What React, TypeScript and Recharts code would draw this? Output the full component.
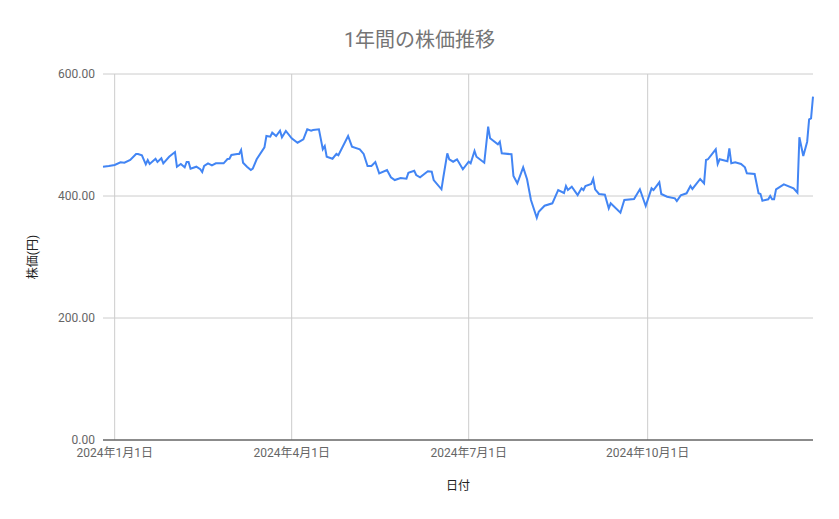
import React from 'react';
import { LineChart, Line, XAxis, YAxis, CartesianGrid, ReferenceLine } from 'recharts';

const TITLE = '1年間の株価推移';
const X_TITLE = '日付';
const Y_TITLE = '株価(円)';

const dates: string[] = [
  '2023-12-26', '2023-12-29', '2024-01-01', '2024-01-04', '2024-01-06', '2024-01-09', '2024-01-12', '2024-01-13',
  '2024-01-15', '2024-01-17', '2024-01-18', '2024-01-19', '2024-01-22', '2024-01-23', '2024-01-25', '2024-01-26',
  '2024-01-29', '2024-02-01', '2024-02-02', '2024-02-04', '2024-02-06', '2024-02-07', '2024-02-08', '2024-02-09',
  '2024-02-12', '2024-02-14', '2024-02-15', '2024-02-16', '2024-02-18', '2024-02-20', '2024-02-22', '2024-02-26',
  '2024-02-28', '2024-02-29', '2024-03-01', '2024-03-04', '2024-03-05', '2024-03-06', '2024-03-07', '2024-03-09',
  '2024-03-11', '2024-03-12', '2024-03-14', '2024-03-18', '2024-03-19', '2024-03-21', '2024-03-22', '2024-03-24',
  '2024-03-26', '2024-03-27', '2024-03-29', '2024-04-01', '2024-04-04', '2024-04-07', '2024-04-09', '2024-04-11',
  '2024-04-12', '2024-04-15', '2024-04-17', '2024-04-18', '2024-04-19', '2024-04-22', '2024-04-24', '2024-04-25',
  '2024-04-30', '2024-05-02', '2024-05-06', '2024-05-08', '2024-05-10', '2024-05-12', '2024-05-14', '2024-05-16',
  '2024-05-20', '2024-05-22', '2024-05-24', '2024-05-27', '2024-05-30', '2024-05-31', '2024-06-03', '2024-06-04',
  '2024-06-06', '2024-06-10', '2024-06-12', '2024-06-13', '2024-06-17', '2024-06-18', '2024-06-20', '2024-06-21',
  '2024-06-23', '2024-06-25', '2024-06-28', '2024-07-01', '2024-07-02', '2024-07-04', '2024-07-05', '2024-07-09',
  '2024-07-11', '2024-07-12', '2024-07-16', '2024-07-17', '2024-07-18', '2024-07-23', '2024-07-24', '2024-07-26',
  '2024-07-29', '2024-07-31', '2024-08-02', '2024-08-05', '2024-08-06', '2024-08-09', '2024-08-13', '2024-08-16',
  '2024-08-19', '2024-08-20', '2024-08-21', '2024-08-23', '2024-08-26', '2024-08-28', '2024-08-29', '2024-08-30',
  '2024-09-02', '2024-09-03', '2024-09-04', '2024-09-06', '2024-09-09', '2024-09-11', '2024-09-12', '2024-09-17',
  '2024-09-19', '2024-09-24', '2024-09-27', '2024-09-30', '2024-10-03', '2024-10-04', '2024-10-07', '2024-10-08',
  '2024-10-11', '2024-10-15', '2024-10-16', '2024-10-18', '2024-10-21', '2024-10-23', '2024-10-24', '2024-10-28',
  '2024-10-30', '2024-10-31', '2024-11-01', '2024-11-05', '2024-11-06', '2024-11-07', '2024-11-11', '2024-11-12',
  '2024-11-13', '2024-11-15', '2024-11-18', '2024-11-20', '2024-11-21', '2024-11-25', '2024-11-27', '2024-11-28',
  '2024-11-29', '2024-12-02', '2024-12-03', '2024-12-04', '2024-12-05', '2024-12-06', '2024-12-10', '2024-12-15',
  '2024-12-17', '2024-12-18', '2024-12-20', '2024-12-22', '2024-12-23', '2024-12-24', '2024-12-25',
];

const prices: number[] = [
  448.0, 449.2, 450.8, 455.2, 454.6, 459.0, 468.9, 468.9,
  466.7, 452.0, 459.0, 452.5, 461.1, 455.7, 461.8, 453.6,
  464.4, 472.1, 448.0, 452.5, 447.0, 455.7, 455.7, 444.8,
  448.0, 443.8, 439.3, 449.2, 453.6, 450.3, 453.6, 453.6,
  460.7, 461.1, 467.2, 468.9, 468.9, 475.4, 454.6, 448.0,
  442.6, 444.8, 460.2, 479.8, 498.4, 497.2, 503.8, 498.4,
  507.0, 496.2, 506.6, 494.6, 487.4, 493.0, 509.3, 507.0,
  508.2, 509.3, 476.6, 482.0, 464.4, 461.1, 468.9, 466.7,
  498.4, 480.8, 476.6, 468.9, 449.2, 449.2, 455.7, 437.2,
  442.6, 430.7, 426.2, 429.5, 428.4, 438.2, 441.5, 434.4,
  430.7, 440.5, 439.8, 426.2, 411.0, 431.6, 470.0, 460.2,
  456.2, 460.2, 443.8, 456.2, 453.6, 473.8, 464.4, 454.6,
  513.6, 494.6, 484.8, 489.0, 470.0, 468.4, 432.8, 420.8,
  447.0, 427.4, 393.4, 364.4, 374.3, 384.1, 388.0, 409.8,
  404.9, 416.4, 409.8, 415.2, 401.6, 412.6, 409.8, 416.4,
  419.7, 427.9, 411.0, 403.3, 402.1, 379.8, 388.0, 372.6,
  393.4, 395.1, 411.0, 383.6, 412.6, 409.8, 422.5, 403.3,
  398.9, 396.2, 391.8, 401.1, 404.4, 416.4, 411.5, 427.9,
  420.8, 459.0, 460.2, 476.6, 452.5, 460.2, 456.9, 478.2,
  453.6, 455.2, 452.5, 447.0, 437.2, 436.1, 404.4, 403.3,
  392.3, 394.6, 400.0, 394.6, 394.6, 411.0, 419.2, 412.6,
  405.4, 496.2, 465.6, 489.0, 525.7, 527.4, 562.8,
];

const xTickDates: string[] = ['2024-01-01', '2024-04-01', '2024-07-01', '2024-10-01'];
const yTicks: number[] = [0, 200, 400, 600];

const toTime = (s: string) => {
  const [y, m, d] = s.split('-').map(Number);
  return Date.UTC(y, m - 1, d);
};

const data = dates.map((d, i) => ({ t: toTime(d), price: prices[i] }));
const xTicks = xTickDates.map(toTime);

const fmtDate = (t: number) => {
  const d = new Date(t);
  return `${d.getUTCFullYear()}年${d.getUTCMonth() + 1}月${d.getUTCDate()}日`;
};

const FONT = "Roboto, 'Noto Sans CJK JP', sans-serif";

export default function App() {
  return (
    <div style={{ position: 'absolute', left: 0, top: 0, width: 839, height: 519, background: '#fff', fontFamily: FONT }}>
      <div
        style={{
          position: 'absolute', left: 0, top: 27, width: 839, textAlign: 'center',
          fontSize: 20, color: '#757575', lineHeight: '26px', fontFamily: FONT,
        }}
      >
        {TITLE}
      </div>
      <div
        style={{
          position: 'absolute', left: 458 - 40, top: 478, width: 80, textAlign: 'center',
          fontSize: 12, color: '#222', lineHeight: '16px', fontFamily: FONT,
        }}
      >
        {X_TITLE}
      </div>
      <div
        style={{
          position: 'absolute', left: 33 - 40, top: 257 - 8, width: 80, textAlign: 'center',
          fontSize: 12, color: '#222', lineHeight: '16px', fontFamily: FONT,
          transform: 'rotate(-90deg)',
        }}
      >
        {Y_TITLE}
      </div>
      <div style={{ position: 'absolute', left: 0, top: 0 }}>
        <LineChart
          width={839}
          height={519}
          data={data}
          margin={{ top: 74, right: 26, bottom: 0, left: 0 }}
        >
          <CartesianGrid stroke="#cccccc" strokeWidth={1} vertical={false} />
          {xTicks.map((t) => (
            <ReferenceLine key={t} x={t} stroke="#cccccc" strokeWidth={1} ifOverflow="extendDomain" />
          ))}
          <XAxis
            dataKey="t"
            type="number"
            scale="time"
            domain={['dataMin', 'dataMax']}
            ticks={xTicks}
            tickFormatter={fmtDate}
            height={79}
            tickLine={false}
            axisLine={{ stroke: '#333333', strokeWidth: 1 }}
            tick={{ fill: '#666666', fontSize: 12, fontFamily: FONT }}
            interval={0}
          />
          <YAxis
            type="number"
            domain={[0, 600]}
            ticks={yTicks}
            tickFormatter={(v: number) => v.toFixed(2)}
            width={103}
            tickLine={false}
            axisLine={false}
            tick={{ fill: '#666666', fontSize: 12, fontFamily: FONT }}
            interval={0}
          />
          <Line
            type="linear"
            dataKey="price"
            stroke="#4285F4"
            strokeWidth={2}
            dot={false}
            isAnimationActive={false}
          />
        </LineChart>
      </div>
    </div>
  );
}
